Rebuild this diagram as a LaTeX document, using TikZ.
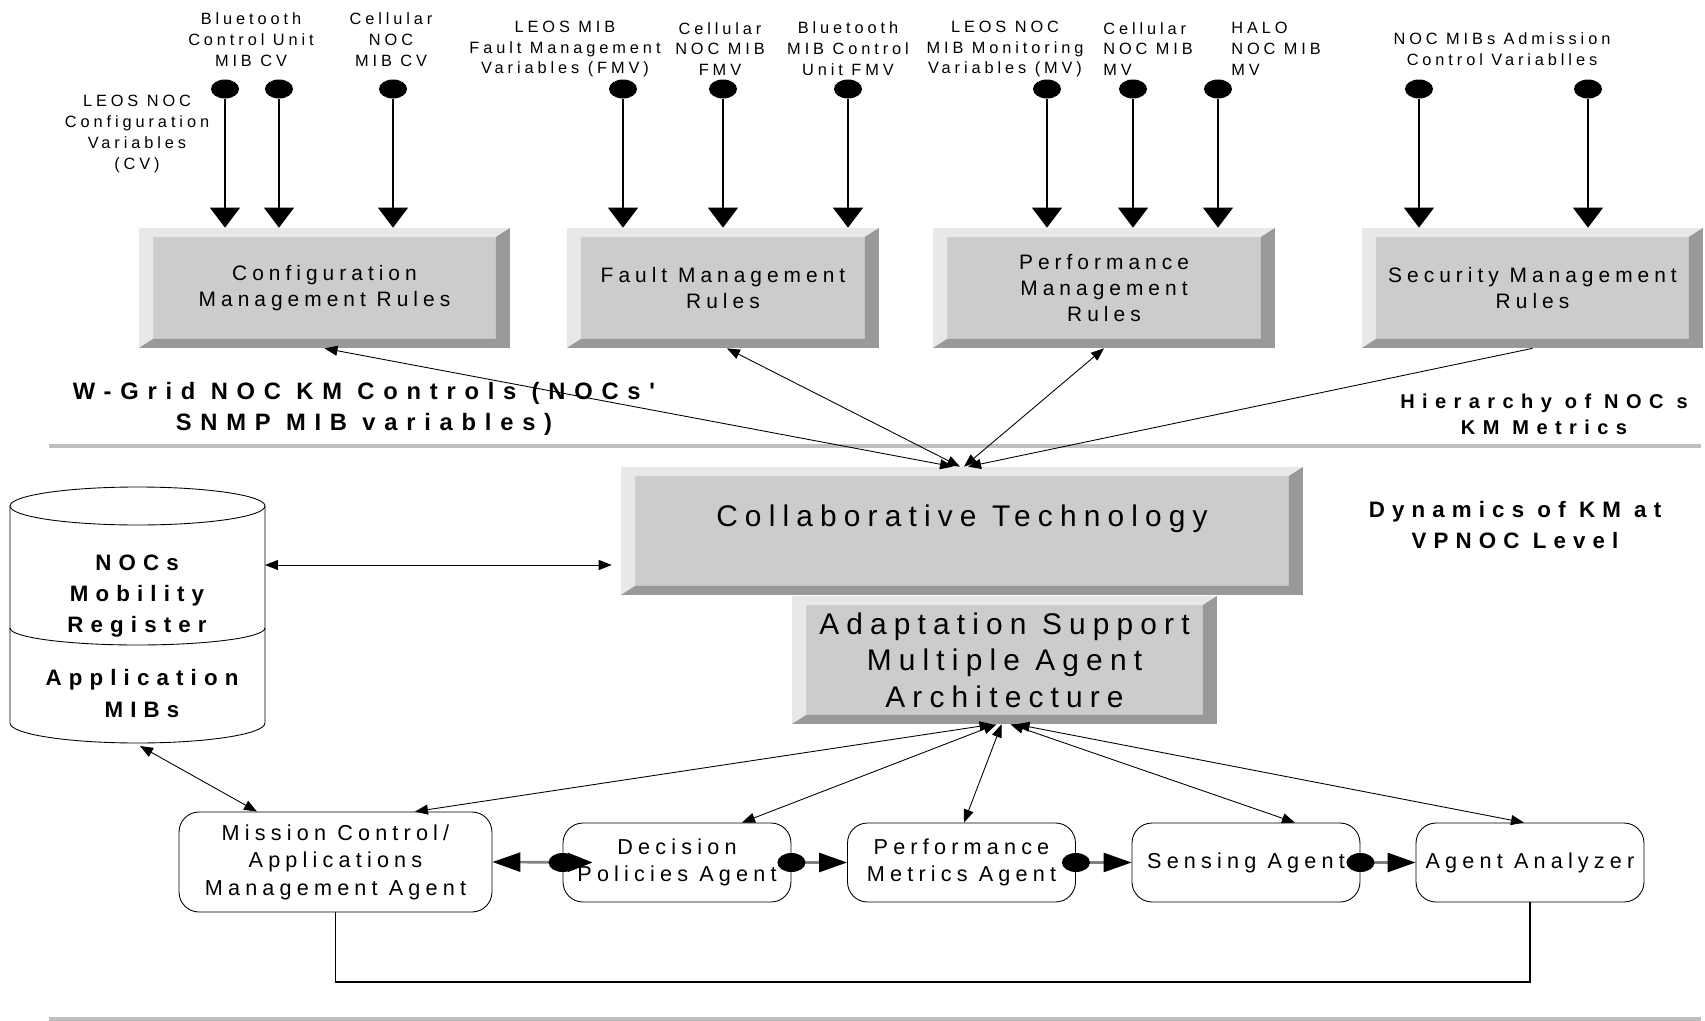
\documentclass[tikz,border=0pt]{standalone}
\usepackage{fontspec}
\setmainfont{Liberation Sans}[LetterSpace=24]
\newfontfamily\widebold{Liberation Sans}[LetterSpace=32]
\newfontfamily\widerbold{Liberation Sans}[LetterSpace=37]
\usetikzlibrary{positioning,arrows.meta,shapes.geometric}

\begin{document}
\begin{tikzpicture}[x=0.02cm,y=-0.02cm,
  bevel/.style={rectangle,inner sep=0pt,align=center,fill=black!20,minimum height=2.4cm,
    font=\fontsize{11.9}{14.8}\selectfont,
    path picture={
      \coordinate (sw) at (path picture bounding box.south west);
      \coordinate (ne) at (path picture bounding box.north east);
      \coordinate (nw) at (sw|-ne);
      \coordinate (se) at (ne|-sw);
      \fill[black!9] (sw) -- (nw) -- (ne) -- ([shift={(-0.28cm,-0.18cm)}]ne)
        -- ([shift={(0.28cm,-0.18cm)}]nw) -- ([shift={(0.28cm,0.18cm)}]sw) -- cycle;
      \fill[black!40] (sw) -- (se) -- (ne) -- ([shift={(-0.28cm,-0.18cm)}]ne)
        -- ([shift={(-0.28cm,0.18cm)}]se) -- ([shift={(0.28cm,0.18cm)}]sw) -- cycle;}},
  bigbox/.style={bevel,minimum height=2.56cm,font=\fontsize{17}{20.7}\selectfont},
  agent/.style={draw,line width=0.5pt,rounded corners=0.4cm,fill=white,inner sep=0pt,align=center,
    minimum width=4.56cm,minimum height=1.58cm,font=\fontsize{12.3}{15.6}\selectfont},
  lbl/.style={inner sep=0pt,align=center,font=\fontsize{9.3}{11.9}\selectfont},
  head/.style={inner sep=0pt,align=center,font=\widebold\bfseries\fontsize{12.7}{17.6}\selectfont},
  dot/.style={ellipse,fill=black,inner sep=0pt,minimum width=0.56cm,minimum height=0.38cm},
  feed/.style={line width=0.6pt,-{Triangle[length=0.4cm,width=0.6cm]}},
  twoway/.style={line width=0.5pt,{Triangle[length=0.26cm,width=0.2cm]}-{Triangle[length=0.26cm,width=0.2cm]}},
  oneway/.style={line width=0.5pt,-{Triangle[length=0.26cm,width=0.2cm]}},
  link/.style={draw=black!50,line width=1.5pt,-{Triangle[length=0.56cm,width=0.38cm,color=black]}},
  sep/.style={draw=black!25,line width=2pt}]
\useasboundingbox (0,0) rectangle (1705,1021);

% rule boxes
\node[bevel,minimum width=7.42cm] (cfg) at (324.5,288) {Configuration\\Management Rules};
\node[bevel,minimum width=6.24cm] (fault) at (723,288) {Fault Management\\Rules};
\node[bevel,minimum width=6.84cm] (perf) at (1104,288) {Performance\\Management\\Rules};
\node[bevel,minimum width=6.82cm] (sec) at (1532.5,288) {Security Management\\Rules};

% variable labels
\node[lbl] (cvleos) at (137,134) {LEOS NOC\\Configuration\\Variables\\(CV)};
\node[lbl] (cvbt) at (251,40) {Bluetooth\\Control Unit\\MIB CV};
\node[lbl] (cvcell) at (391,40) {Cellular\\NOC\\MIB CV};
\node[lbl] (fmleos) at (565,49) {LEOS MIB\\Fault Management\\Variables (FMV)};
\node[lbl] (fmcell) at (720,49) {Cellular\\NOC MIB\\FMV};
\node[lbl] (fmbt) at (848,49) {Bluetooth\\MIB Control\\Unit FMV};
\node[lbl] (mvleos) at (1005,49) {LEOS NOC\\MIB Monitoring\\Variables (MV)};
\node[lbl,align=left,anchor=west] (mvcell) at (1103,49) {Cellular\\NOC MIB\\MV};
\node[lbl,align=left,anchor=west] (mvhalo) at (1231,49) {HALO\\NOC MIB\\MV};
\node[lbl] (adm) at (1502,49) {NOC MIBs Admission\\Control Variablles};

\foreach \n/\x/\b in {c1/225/cfg,c2/279/cfg,c3/393/cfg,f1/623/fault,f2/723/fault,f3/848/fault,
    m1/1047/perf,m2/1133/perf,m3/1218/perf,s1/1419/sec,s2/1588/sec}{
  \node[dot] (\n) at (\x,89) {};
  \draw[feed] (\n) -- (\n |- \b.north);
}

\node[head,font=\widerbold\bfseries\fontsize{13.5}{18}\selectfont] (wgrid) at (364,409) {W-Grid NOC KM Controls (NOCs'\\SNMP MIB variables)};
\node[head,font=\widerbold\bfseries\fontsize{11.4}{14.8}\selectfont] (hier) at (1544,414) {Hierarchy of NOC s\\KM Metrics};
\node[head] (dyn) at (1515,525) {Dynamics of KM at\\VPNOC Level};

\draw[sep] (49,446) -- (1701,446);
\draw[sep] (49,1019) -- (1701,1019);

% VPNOC level
\node[bigbox,minimum width=13.64cm] (collab) at (962,531) {\raisebox{0.62cm}{Collaborative Technology}};
\node[bigbox,minimum width=8.5cm] (adapt) at (1004.5,660) {Adaptation Support\\Multiple Agent\\Architecture};

\draw[twoway] ([xshift=-0.18cm]collab.north) -- (cfg.south);
\draw[twoway] ([xshift=-0.04cm]collab.north) -- ([xshift=0.08cm]fault.south);
\draw[twoway] ([xshift=0.04cm]collab.north) -- (perf.south);
\draw[oneway] (sec.south) -- ([xshift=0.12cm]collab.north);

% register
\draw[line width=0.5pt] (10,506) -- (10,723) arc[start angle=180,end angle=360,x radius=2.55cm,y radius=0.4cm] -- (265,506);
\draw[line width=0.5pt] (137.5,506) ellipse[x radius=2.55cm,y radius=0.38cm];
\draw[line width=0.5pt] (10,628) arc[start angle=180,end angle=360,x radius=2.55cm,y radius=0.34cm];
\node[head,font=\widebold\bfseries\fontsize{12.7}{17.6}\selectfont] (reg) at (137,596) {NOCs\\Mobility\\Register};
\node[head,font=\widebold\bfseries\fontsize{12.7}{18.2}\selectfont] (mib) at (142,694) {Application\\MIBs};
\coordinate (regR) at (265,565);
\coordinate (regB) at (140,746);
\coordinate (ctL) at ([xshift=-0.18cm]collab.west);
\draw[twoway] (regR) -- (ctL |- regR);

% agents
\node[agent,minimum width=6.26cm,minimum height=2cm] (mca) at (335.5,862) {Mission Control/\\Applications\\Management Agent};
\node[agent] (dpa) at (677,862.5) {Decision\\Policies Agent};
\node[agent] (pma) at (961.5,862.5) {Performance\\Metrics Agent};
\node[agent] (sna) at (1246,862.5) {Sensing Agent};
\node[agent] (ana) at (1530,862.5) {Agent Analyzer};

\draw[twoway] (regB) -- ([xshift=-1.57cm]mca.north);
\draw[twoway] ([xshift=-0.24cm]adapt.south) -- ([xshift=1.59cm]mca.north);
\draw[twoway] ([xshift=-0.16cm]adapt.south) -- ([xshift=1.3cm]dpa.north);
\draw[twoway] ([xshift=-0.06cm]adapt.south) -- ([xshift=0.05cm]pma.north);
\draw[twoway] ([xshift=0.12cm]adapt.south) -- ([xshift=0.98cm]sna.north);
\draw[twoway] ([xshift=0.24cm]adapt.south) -- ([xshift=-0.12cm]ana.north);

\draw[link,{Triangle[length=0.56cm,width=0.38cm,color=black]}-{Triangle[length=0.5cm,width=0.38cm,color=black]}] (mca.east) -- ([xshift=0.6cm]dpa.west);
\draw[link] (dpa.east) -- (pma.west);
\draw[link] (pma.east) -- (sna.west);
\draw[link] (sna.east) -- (ana.west);
\node[dot] (j1) at (dpa.west) {};
\node[dot] (j2) at (dpa.east) {};
\node[dot] (j3) at (pma.east) {};
\node[dot] (j4) at (sna.east) {};

% feedback
\coordinate (fb) at (0,982);
\draw[line width=0.6pt] (mca.south) -- (mca.south |- fb) -- (ana.south |- fb) -- (ana.south);
\end{tikzpicture}
\end{document}
